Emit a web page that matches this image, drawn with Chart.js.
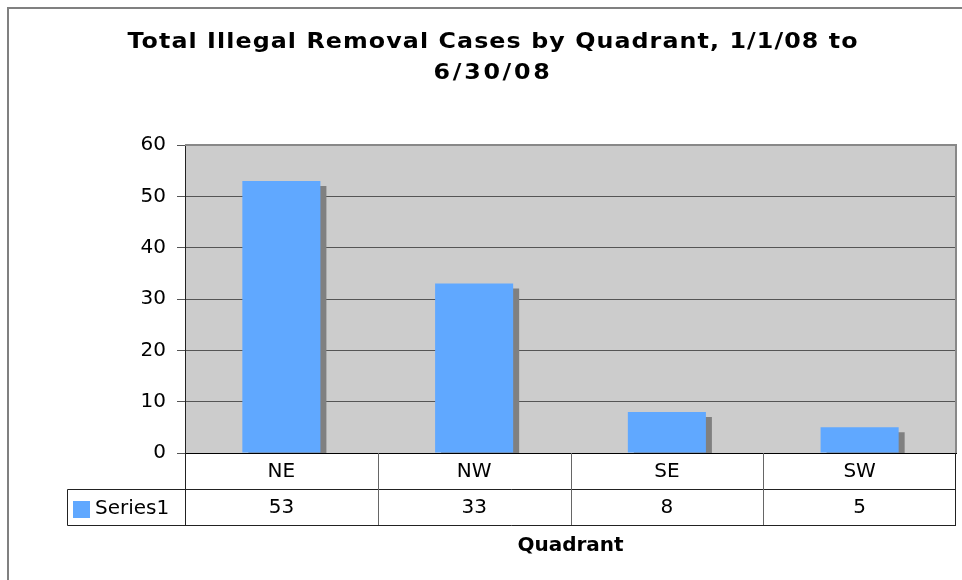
<!DOCTYPE html>
<html>
<head>
<script src="https://cdn.jsdelivr.net/npm/chart.js@4.4.1/dist/chart.umd.min.js"></script>
<style>
body { margin: 0; background: #fff; }
</style>
</head>
<body>
<canvas id="quadrantChart" width="962" height="580"></canvas>

<script>
// values
var quadrants = ["NE", "NW", "SE", "SW"];
var cases = [53, 33, 8, 5];
var seriesName = "Series1";
var titleLines = ["Total Illegal Removal Cases by Quadrant, 1/1/08 to", "6/30/08"];
var axisTitle = "Quadrant";
var yMin = 0, yMax = 60, yStep = 10;

var barColor = "#60A8FF";
var font = "'DejaVu Sans', Verdana, sans-serif";

// gray plot area, bar shadow, data table under the axis, wide title
var excelLook = {
	id: "excelLook",
	beforeDraw: function(chart) {
		var a = chart.chartArea, ctx = chart.ctx;
		ctx.save();
		ctx.fillStyle = "#CCCCCC";
		ctx.fillRect(a.left, a.top, a.right - a.left, a.bottom - a.top);
		ctx.restore();
	},
	beforeDatasetDraw: function(chart) {
		var ctx = chart.ctx;
		ctx.save();
		ctx.shadowColor = "#808080";
		ctx.shadowOffsetX = 6;
		ctx.shadowOffsetY = 5;
		ctx.shadowBlur = 0;
	},
	afterDatasetDraw: function(chart) {
		chart.ctx.restore();
	},
	afterDraw: function(chart) {
		var a = chart.chartArea, ctx = chart.ctx;
		var x = chart.scales.x;
		var half = (a.right - a.left) / quadrants.length / 2;
		var row1 = a.bottom + 36, row2 = a.bottom + 72;
		var legendLeft = 67;

		ctx.save();
		// plot border top / right
		ctx.strokeStyle = "#888";
		ctx.lineWidth = 2;
		ctx.beginPath();
		ctx.moveTo(a.left, a.top);
		ctx.lineTo(a.right, a.top);
		ctx.lineTo(a.right, a.bottom);
		ctx.stroke();

		// table lines
		ctx.lineWidth = 1;
		ctx.strokeStyle = "#222";
		ctx.beginPath();
		ctx.moveTo(a.left + 0.5, a.bottom);
		ctx.lineTo(a.left + 0.5, row2 + 0.5);
		ctx.moveTo(a.right - 0.5, a.bottom);
		ctx.lineTo(a.right - 0.5, row2 + 0.5);
		ctx.moveTo(legendLeft + 0.5, row1 + 0.5);
		ctx.lineTo(a.right, row1 + 0.5);
		ctx.moveTo(legendLeft + 0.5, row1 + 0.5);
		ctx.lineTo(legendLeft + 0.5, row2 + 0.5);
		ctx.lineTo(a.right, row2 + 0.5);
		ctx.stroke();

		ctx.strokeStyle = "#666";
		ctx.beginPath();
		for (var i = 1; i < quadrants.length; i++) {
			var bx = Math.round(x.getPixelForValue(i) - half) + 0.5;
			ctx.moveTo(bx, a.bottom);
			ctx.lineTo(bx, row2);
		}
		ctx.stroke();

		// texts
		ctx.fillStyle = "#000";
		ctx.font = "20px " + font;
		ctx.textAlign = "center";
		ctx.textBaseline = "middle";
		for (var j = 0; j < quadrants.length; j++) {
			var cx = x.getPixelForValue(j);
			ctx.fillText(quadrants[j], cx, a.bottom + 19);
			ctx.fillText(String(cases[j]), cx, row1 + 19);
		}

		// legend key
		ctx.fillStyle = barColor;
		ctx.fillRect(73, row1 + 12, 17, 17);
		ctx.fillStyle = "#000";
		ctx.textAlign = "left";
		ctx.fillText(seriesName, 95, row1 + 20);

		// axis title
		ctx.textAlign = "center";
		ctx.font = "bold 20px " + font;
		ctx.fillText(axisTitle, (a.left + a.right) / 2, row2 + 21);

		// chart title, a bit wider like the original
		ctx.save();
		ctx.translate(493, 0);
		ctx.scale(1.08, 1);
		ctx.font = "bold 22px " + font;
		ctx.textBaseline = "alphabetic";
		ctx.letterSpacing = "1px";
		ctx.fillText(titleLines[0], 0, 48);
		ctx.letterSpacing = "2.5px";
		ctx.fillText(titleLines[1], 0, 79);
		ctx.restore();

		// outer frame
		ctx.strokeStyle = "#808080";
		ctx.lineWidth = 2;
		ctx.strokeRect(8, 8, 1000, 1000);
		ctx.restore();
	}
};

new Chart("quadrantChart", {
	type: "bar",
	data: {
		labels: quadrants,
		datasets: [{
			label: seriesName,
			data: cases,
			backgroundColor: barColor,
			borderWidth: 0,
			categoryPercentage: 1,
			barPercentage: 0.405,
			clip: 0
		}]
	},
	options: {
		responsive: false,
		animation: false,
		layout: { padding: { left: 26, right: 6, top: 145, bottom: 0 } },
		plugins: {
			legend: { display: false },
			tooltip: { enabled: false },
			title: { display: false }
		},
		scales: {
			x: {
				ticks: { display: false },
				grid: { display: false, drawTicks: false },
				border: { display: true, color: "#000", width: 1 },
				afterFit: function(scale) { scale.height = 127; }
			},
			y: {
				min: yMin,
				max: yMax,
				ticks: {
					stepSize: yStep,
					color: "#000",
					padding: 11,
					font: { family: font, size: 20 }
				},
				grid: { color: "#555", lineWidth: 1, tickLength: 8 },
				border: { display: true, color: "#222", width: 1 },
				afterFit: function(scale) { scale.width = 159; }
			}
		}
	},
	plugins: [excelLook]
});
</script>
</body>
</html>
